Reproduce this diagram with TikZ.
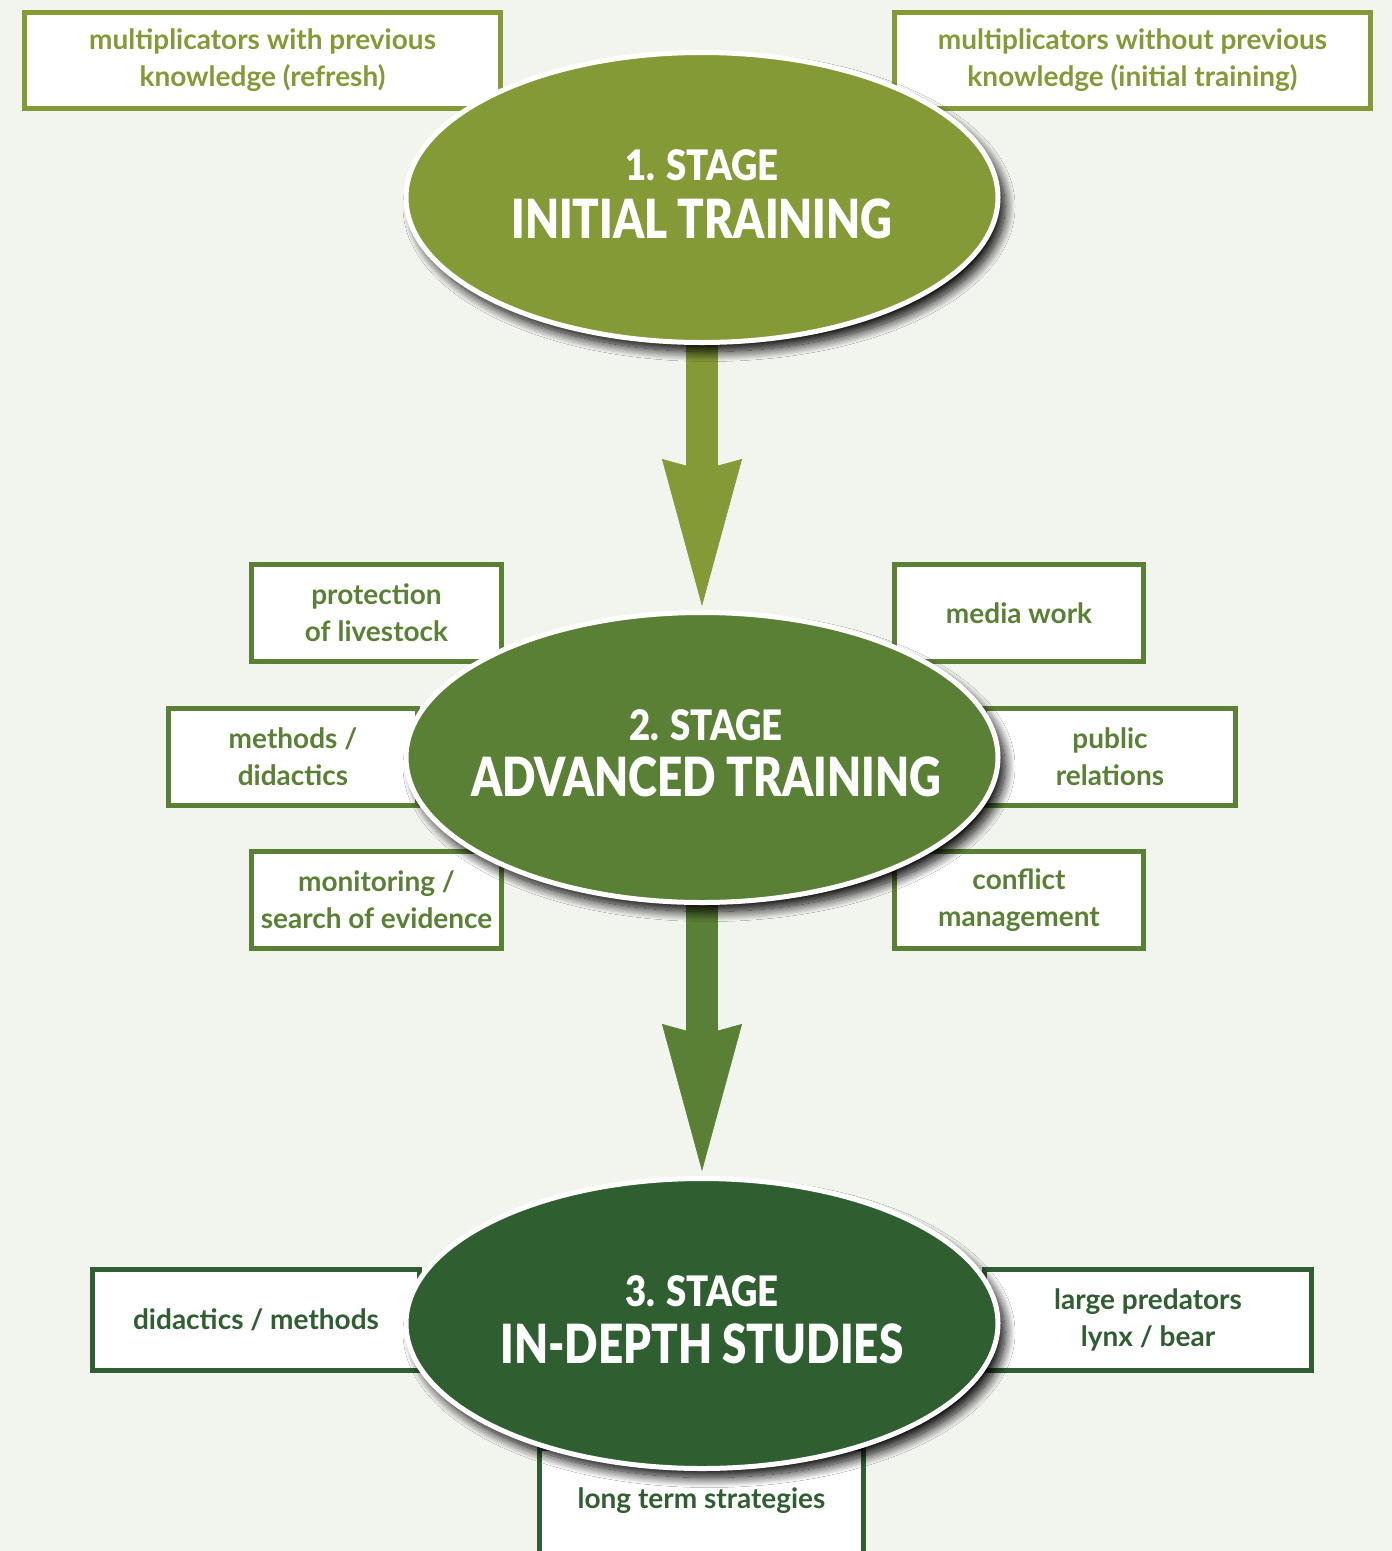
\documentclass[tikz,border=0pt]{standalone}
\usepackage{fontspec}
\setmainfont{Lato}
\newfontfamily\boxfont{Lato Bold}
\newfontfamily\titlefontA[FakeStretch=0.87]{Lato Black}
\newfontfamily\titlefontB[FakeStretch=0.815]{Lato Black}
\usetikzlibrary{arrows.meta,shadows.blur,shapes.geometric}
\definecolor{bgc}{HTML}{F2F4EE}
\definecolor{cA}{HTML}{849A37}
\definecolor{cB}{HTML}{5A8035}
\definecolor{cC}{HTML}{2F5E31}
\tikzset{
  infobox/.style={draw=#1, text=#1, fill=white, line width=5pt, rectangle, inner sep=0pt,
    align=center, font=\boxfont\fontsize{28}{37}\selectfont},
  stagenode/.style={ellipse, fill=#1, draw=white, line width=5pt, inner sep=0pt,
    minimum width=592pt, minimum height=290pt,
    blur shadow={shadow xshift=7pt, shadow yshift=-9pt, shadow blur radius=10pt,
      shadow blur steps=20, shadow opacity=100}},
  titleA/.style={anchor=base, text=white, inner sep=0pt, font=\titlefontA\fontsize{42}{46}\selectfont},
  titleB/.style={anchor=base, text=white, inner sep=0pt, font=\titlefontB\fontsize{54}{58}\selectfont},
  bigarrow/.style={draw=#1, line width=32pt, -{Stealth[length=147pt, width=80pt, inset=11pt, line width=0.5pt]}},
}
\begin{document}
\begin{tikzpicture}[x=1pt, y=-1pt]
\fill[bgc] (0,0) rectangle (1392,1551);
\useasboundingbox (0,0) rectangle (1392,1551);
\clip (0,0) rectangle (1392,1551);
% boxes
\node[infobox=cA, minimum width=476pt, minimum height=96pt] (b1) at (262.5,60.5) {multiplicators with previous\\knowledge (refresh)};
\node[infobox=cA, minimum width=476pt, minimum height=96pt] (b2) at (1132.5,60.5) {multiplicators without previous\\knowledge (initial training)};
\node[infobox=cB, minimum width=250pt, minimum height=97pt] (b3) at (376.5,613) {protection\\of livestock};
\node[infobox=cB, minimum width=249pt, minimum height=97pt] (b4) at (293,757) {methods /\\didactics};
\node[infobox=cB, minimum width=250pt, minimum height=97pt] (b5) at (376.5,900) {monitoring /\\search of evidence};
\node[infobox=cB, minimum width=249pt, minimum height=97pt] (b6) at (1019,613) {media work};
\node[infobox=cB, minimum width=251pt, minimum height=97pt] (b7) at (1110,757) {public\\relations};
\node[infobox=cB, minimum width=249pt, minimum height=97pt] (b8) at (1019,900) {conflict\\management};
\node[infobox=cC, minimum width=327pt, minimum height=101pt] (b9) at (256,1320) {didactics / methods};
\node[infobox=cC, minimum width=327pt, minimum height=101pt] (b10) at (1148,1320) {large predators\\lynx / bear};
\node[infobox=cC, minimum width=324pt, minimum height=106pt] (b11) at (701.5,1501) {long term strategies};
% arrows
\coordinate (e1c) at (702,197.5);
\coordinate (e2c) at (702,757.5);
\coordinate (e2top) at (702,606);
\coordinate (e3top) at (702,1171);
\draw[bigarrow=cA] (e1c) -- (e2top);
\draw[bigarrow=cB] (e2c) -- (e3top);
% stages
\node[stagenode=cA] (s1) at (e1c) {};
\node[titleA] (s1a) at (702,180) {1. STAGE};
\node[titleB] (s1b) at (702,238) {INITIAL TRAINING};
\node[stagenode=cB] (s2) at (e2c) {};
\node[titleA] (s2a) at (706,740) {2. STAGE};
\node[titleB] (s2b) at (706,796) {ADVANCED TRAINING};
\node[stagenode=cC] (s3) at (702,1323.5) {};
\node[titleA] (s3a) at (702,1306) {3. STAGE};
\node[titleB] (s3b) at (702,1363) {IN-DEPTH STUDIES};
\end{tikzpicture}
\end{document}
